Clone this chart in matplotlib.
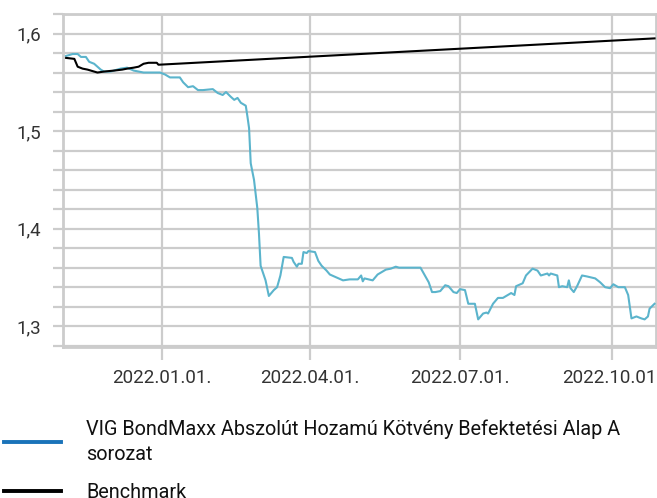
import numpy as np
import matplotlib
matplotlib.use("Agg")
import matplotlib.pyplot as plt
import matplotlib.dates as mdates
from matplotlib.lines import Line2D
from matplotlib.ticker import MultipleLocator, FuncFormatter

# fund (A series)
fund_dates = [
    "2021-11-04", "2021-11-08", "2021-11-11", "2021-11-13", "2021-11-16", "2021-11-18",
    "2021-11-21", "2021-11-23", "2021-11-25", "2021-11-27", "2021-12-01", "2021-12-07",
    "2021-12-11", "2021-12-15", "2021-12-21", "2021-12-27", "2021-12-31", "2022-01-03",
    "2022-01-06", "2022-01-12", "2022-01-14", "2022-01-17", "2022-01-20", "2022-01-23",
    "2022-01-26", "2022-02-01", "2022-02-04", "2022-02-07", "2022-02-09", "2022-02-12",
    "2022-02-14", "2022-02-16", "2022-02-18", "2022-02-21", "2022-02-22", "2022-02-23",
    "2022-02-24", "2022-02-26", "2022-02-28", "2022-03-01", "2022-03-02", "2022-03-05",
    "2022-03-07", "2022-03-10", "2022-03-12", "2022-03-14", "2022-03-16", "2022-03-21",
    "2022-03-22", "2022-03-24", "2022-03-25", "2022-03-27", "2022-03-28", "2022-03-30",
    "2022-03-31", "2022-04-04", "2022-04-06", "2022-04-08", "2022-04-11", "2022-04-13",
    "2022-04-17", "2022-04-21", "2022-04-25", "2022-04-30", "2022-05-02", "2022-05-03",
    "2022-05-04", "2022-05-09", "2022-05-12", "2022-05-17", "2022-05-20", "2022-05-23",
    "2022-05-25", "2022-06-01", "2022-06-07", "2022-06-10", "2022-06-12", "2022-06-14",
    "2022-06-16", "2022-06-19", "2022-06-22", "2022-06-24", "2022-06-27", "2022-06-29",
    "2022-07-01", "2022-07-04", "2022-07-06", "2022-07-10", "2022-07-12", "2022-07-15",
    "2022-07-17", "2022-07-18", "2022-07-21", "2022-07-24", "2022-07-27", "2022-08-01",
    "2022-08-03", "2022-08-04", "2022-08-08", "2022-08-10", "2022-08-14", "2022-08-17",
    "2022-08-19", "2022-08-23", "2022-08-24", "2022-08-25", "2022-08-29", "2022-08-30",
    "2022-09-01", "2022-09-04", "2022-09-05", "2022-09-06", "2022-09-08", "2022-09-10",
    "2022-09-13", "2022-09-16", "2022-09-21", "2022-09-24", "2022-09-27", "2022-09-30",
    "2022-10-02", "2022-10-05", "2022-10-09", "2022-10-11", "2022-10-13", "2022-10-16",
    "2022-10-19", "2022-10-21", "2022-10-23", "2022-10-24", "2022-10-27",
]
fund_values = [
    1.577, 1.579, 1.579, 1.576, 1.576, 1.571,
    1.569, 1.566, 1.563, 1.561, 1.561, 1.564,
    1.565, 1.562, 1.560, 1.560, 1.560, 1.558,
    1.555, 1.555, 1.550, 1.545, 1.546, 1.542,
    1.542, 1.543, 1.539, 1.537, 1.540, 1.535,
    1.532, 1.534, 1.529, 1.526, 1.515, 1.503,
    1.467, 1.450, 1.421, 1.395, 1.362, 1.347,
    1.331, 1.337, 1.340, 1.352, 1.371, 1.370,
    1.366, 1.361, 1.364, 1.364, 1.376, 1.375,
    1.377, 1.376, 1.367, 1.362, 1.357, 1.353,
    1.350, 1.347, 1.348, 1.348, 1.352, 1.346,
    1.349, 1.347, 1.353, 1.358, 1.359, 1.361,
    1.360, 1.360, 1.360, 1.351, 1.345, 1.335,
    1.335, 1.336, 1.342, 1.341, 1.335, 1.334,
    1.338, 1.337, 1.323, 1.323, 1.307, 1.313,
    1.314, 1.313, 1.323, 1.329, 1.329, 1.334,
    1.332, 1.341, 1.344, 1.352, 1.359, 1.357,
    1.352, 1.354, 1.352, 1.354, 1.352, 1.340,
    1.341, 1.340, 1.347, 1.339, 1.335, 1.341,
    1.352, 1.351, 1.349, 1.345, 1.340, 1.339,
    1.343, 1.340, 1.340, 1.332, 1.308, 1.310,
    1.308, 1.307, 1.310, 1.318, 1.323,
]

bench_dates = [
    "2021-11-04", "2021-11-09", "2021-11-11", "2021-11-14", "2021-11-17", "2021-11-21",
    "2021-11-23", "2021-11-27", "2021-12-03", "2021-12-08", "2021-12-11", "2021-12-15",
    "2021-12-18", "2021-12-21", "2021-12-24", "2021-12-29", "2021-12-30", "2022-10-27",
]
bench_values = [
    1.575, 1.574, 1.566, 1.564, 1.563, 1.561,
    1.560, 1.561, 1.562, 1.563, 1.564, 1.565,
    1.566, 1.569, 1.570, 1.570, 1.568, 1.595,
]

tick_dates = ["2022-01-01", "2022-04-01", "2022-07-01", "2022-10-01"]
fund_label = "VIG BondMaxx Abszolút Hozamú Kötvény Befektetési Alap A\nsorozat"
bench_label = "Benchmark"

plt.rcParams["font.family"] = ["Roboto", "DejaVu Sans"]
grid_col = "#cccccc"

fig = plt.figure(figsize=(6.57, 4.98), dpi=100)
ax = fig.add_axes([63.3 / 657, 1 - 346.7 / 498, (655.5 - 63.3) / 657, (346.7 - 14) / 498])

fd = np.array(fund_dates, dtype="datetime64[D]")
bd = np.array(bench_dates, dtype="datetime64[D]")
ax.plot(fd, fund_values, color="#5bb4cc", lw=1.5, zorder=3)
ax.plot(bd, bench_values, color="black", lw=1.5, zorder=4)

ax.set_xlim(np.datetime64("2021-11-02T07:00"), np.datetime64("2022-10-27T14:00"))
ax.set_ylim(1.279, 1.62)

ax.set_xticks(np.array(tick_dates, dtype="datetime64[D]"))
ax.xaxis.set_major_formatter(mdates.DateFormatter("%Y.%m.%d."))
ax.yaxis.set_major_locator(MultipleLocator(0.1))
ax.yaxis.set_minor_locator(MultipleLocator(0.02))
ax.yaxis.set_major_formatter(FuncFormatter(lambda v, p: f"{v:.1f}".replace(".", ",")))

ax.grid(True, which="both", axis="y", color=grid_col, lw=1.6, zorder=0)
ax.grid(True, which="major", axis="x", color=grid_col, lw=1.6, zorder=0)
for s in ax.spines.values():
    s.set_color(grid_col)
    s.set_linewidth(2)

ax.tick_params(axis="y", which="both", length=7.2, width=1.6, color=grid_col,
               labelsize=13.5, labelcolor="#333333", pad=8.5)
ax.tick_params(axis="x", length=9.4, width=1.6, color=grid_col,
               labelsize=13.5, labelcolor="#333333", pad=7)

handles = [Line2D([], [], color="#1a73b9", lw=2.8), Line2D([], [], color="black", lw=2.8)]
leg = fig.legend(handles, [fund_label, bench_label], loc="upper left",
                 bbox_to_anchor=(0.0, 1 - 416 / 498), frameon=False, fontsize=14.3,
                 labelcolor="#111111", handlelength=2.85, handletextpad=1.3,
                 labelspacing=0.95, borderaxespad=0, borderpad=0.2)
for t in leg.get_texts():
    t.set_linespacing(1.35)

fig.savefig("out.png", dpi=100)
